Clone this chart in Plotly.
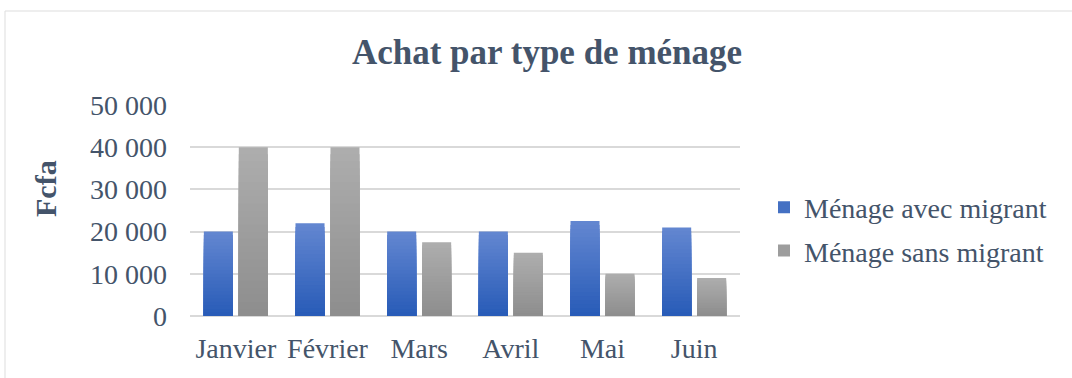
import plotly.graph_objects as go

# Monthly purchases (Fcfa) by household type
mois = ["Janvier", "Février", "Mars", "Avril", "Mai", "Juin"]
avec_migrant = [20000, 22000, 20000, 20000, 22500, 21000]
sans_migrant = [40000, 40000, 17500, 15000, 10000, 9000]
series_names = ["Ménage avec migrant", "Ménage sans migrant"]

TEXT = "#44546A"
FONT = "Liberation Serif, Times New Roman, serif"
GRID = "#D9D9D9"

# Vertical gradient per bar (light top -> dark bottom), built from stacked overlays
gradients = [((0x62, 0x86, 0xD0), (0x29, 0x5C, 0xB8)),
             ((0xAD, 0xAD, 0xAD), (0x8E, 0x8E, 0x8E))]
N_STEPS = 24


def mix(c1, c2, t):
    return "rgb(%d,%d,%d)" % tuple(round(a + (b - a) * t) for a, b in zip(c1, c2))


fig = go.Figure()
for name, values, (top, bottom) in zip(series_names, [avec_migrant, sans_migrant], gradients):
    for k in range(N_STEPS):
        frac = 1 - k / N_STEPS
        fig.add_trace(go.Bar(
            x=mois,
            y=[v * frac for v in values],
            name=name,
            offsetgroup=name,
            legendgroup=name,
            showlegend=(k == N_STEPS // 2),
            marker=dict(color=mix(top, bottom, k / (N_STEPS - 1)), line=dict(width=0)),
            hoverinfo="skip" if k else None,
        ))

W, H = 1072, 378
L, R, T, B = 190, 332, 105, 62
pw, ph = W - L - R, H - T - B

fig.update_layout(
    width=W, height=H,
    margin=dict(l=L, r=R, t=T, b=B),
    paper_bgcolor="white", plot_bgcolor="white",
    barmode="group", bargap=0.237, bargroupgap=0.17,
    separators=", ",
    font=dict(family=FONT, color=TEXT, size=28),
    title=dict(text="<b>Achat par type de ménage</b>", x=(547 - L) / pw, xref="paper",
               xanchor="center", y=1 - 52 / H, yanchor="middle",
               font=dict(size=35, color=TEXT, family=FONT)),
    legend=dict(x=(764 - L) / pw, xanchor="left", y=(316 - 229) / ph, yanchor="middle",
                font=dict(size=28, color=TEXT, family=FONT), tracegroupgap=4,
                itemwidth=30, bgcolor="rgba(0,0,0,0)"),
    showlegend=True,
    annotations=[
        dict(text="<b>Fcfa</b>", xref="paper", yref="paper", textangle=-90,
             x=(45 - L) / pw, y=(316 - 189) / ph, xanchor="center", yanchor="middle",
             showarrow=False, font=dict(size=30, color=TEXT, family=FONT)),
    ],
    shapes=[
        dict(type="line", xref="paper", yref="paper",
             x0=(5 - L) / pw, x1=(W + 5 - L) / pw, y0=(316 - 11) / ph, y1=(316 - 11) / ph,
             line=dict(color="#DDDDDD", width=1)),
        dict(type="line", xref="paper", yref="paper",
             x0=(5 - L) / pw, x1=(5 - L) / pw, y0=(316 - 11) / ph, y1=(316 - H - 5) / ph,
             line=dict(color="#DDDDDD", width=1)),
    ],
)
fig.update_yaxes(range=[0, 50000], dtick=10000, tickformat=",d",
                 showgrid=True, gridcolor=GRID, gridwidth=2,
                 zeroline=True, zerolinecolor=GRID, zerolinewidth=2,
                 showline=False, ticks="", ticklabelstandoff=22,
                 tickfont=dict(size=28, color=TEXT, family=FONT))
fig.update_xaxes(showgrid=False, showline=False, ticks="", ticklabelstandoff=13,
                 tickfont=dict(size=28, color=TEXT, family=FONT))

fig.write_html("out.html")
